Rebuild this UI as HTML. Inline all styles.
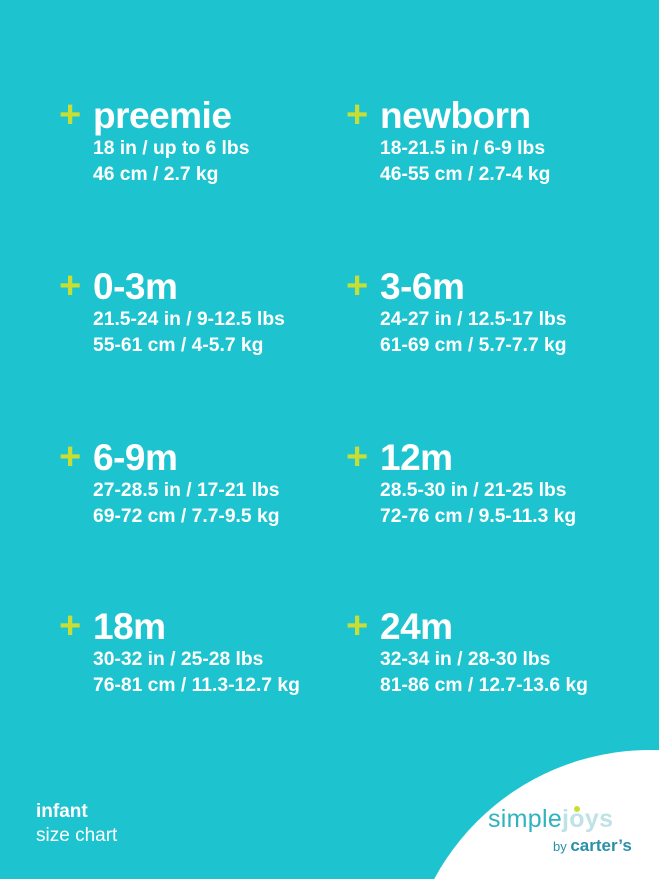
<!DOCTYPE html>
<html><head><style>
body{margin:0}
.p{position:relative;width:659px;height:879px;background:#1dc4cf;overflow:hidden;font-family:"Liberation Sans",sans-serif;color:#fff}
.b{position:absolute}
.pl{position:absolute;left:-34px;top:-1px;font-size:38px;font-weight:bold;color:#c9de34;line-height:40px}
.t{font-size:37px;font-weight:bold;line-height:40px;letter-spacing:-0.5px}
.s{font-size:19.3px;font-weight:bold;line-height:26px;margin-top:0px}
.c{position:absolute;left:405px;top:750px;width:490px;height:490px;border-radius:50%;background:#fff}
</style></head><body><div class="p">
<div class="b" style="left:93px;top:96px"><span class="pl">+</span><div class="t">preemie</div><div class="s">18 in / up to 6 lbs<br>46 cm / 2.7 kg</div></div>
<div class="b" style="left:380px;top:96px"><span class="pl">+</span><div class="t">newborn</div><div class="s">18-21.5 in / 6-9 lbs<br>46-55 cm / 2.7-4 kg</div></div>
<div class="b" style="left:93px;top:267px"><span class="pl">+</span><div class="t">0-3m</div><div class="s">21.5-24 in / 9-12.5 lbs<br>55-61 cm / 4-5.7 kg</div></div>
<div class="b" style="left:380px;top:267px"><span class="pl">+</span><div class="t">3-6m</div><div class="s">24-27 in / 12.5-17 lbs<br>61-69 cm / 5.7-7.7 kg</div></div>
<div class="b" style="left:93px;top:438px"><span class="pl">+</span><div class="t">6-9m</div><div class="s">27-28.5 in / 17-21 lbs<br>69-72 cm / 7.7-9.5 kg</div></div>
<div class="b" style="left:380px;top:438px"><span class="pl">+</span><div class="t">12m</div><div class="s">28.5-30 in / 21-25 lbs<br>72-76 cm / 9.5-11.3 kg</div></div>
<div class="b" style="left:93px;top:607px"><span class="pl">+</span><div class="t">18m</div><div class="s">30-32 in / 25-28 lbs<br>76-81 cm / 11.3-12.7 kg</div></div>
<div class="b" style="left:380px;top:607px"><span class="pl">+</span><div class="t">24m</div><div class="s">32-34 in / 28-30 lbs<br>81-86 cm / 12.7-13.6 kg</div></div>
<div class="b" style="left:36px;top:800px;font-size:19px;line-height:24px"><b>infant</b><br>size chart</div>
<div class="c"></div>
<div class="b" style="left:488px;top:805px;font-size:25px;color:#2fb3bd;letter-spacing:0.3px">simple<span style="color:#bfe2e6;font-weight:bold">joys</span></div>
<div class="b" style="left:574px;top:806px;width:6px;height:6px;border-radius:50%;background:#c9de34"></div>
<div class="b" style="left:553px;top:836px;font-size:13px;color:#2a8fa8">by <b style="font-size:17px">carter’s</b></div>
</div></body></html>
